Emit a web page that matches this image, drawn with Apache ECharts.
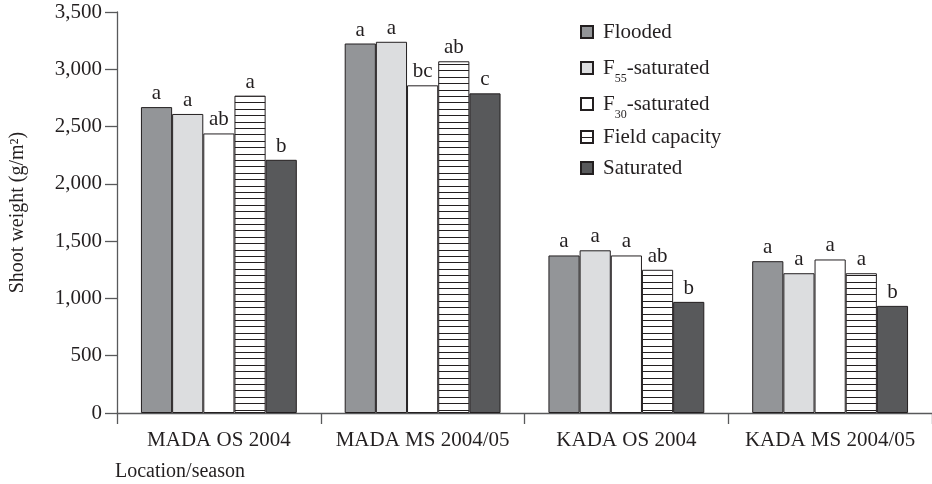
<!DOCTYPE html>
<html>
<head>
<meta charset="utf-8">
<script src="https://cdn.jsdelivr.net/npm/echarts@6/dist/echarts.min.js"></script>
<style>html,body{margin:0;padding:0;background:#fff;}#c{width:932px;height:484px;}</style>
</head>
<body>
<div id="c"></div>
<script>
const categories = ['MADA OS 2004', 'MADA MS 2004/05', 'KADA OS 2004', 'KADA MS 2004/05'];
const seriesNames = ['Flooded', 'F55-saturated', 'F30-saturated', 'Field capacity', 'Saturated'];
const flooded = [2670, 3225, 1375, 1325];
const f55Saturated = [2610, 3240, 1420, 1220];
const f30Saturated = [2440, 2860, 1375, 1340];
const fieldCapacity = [2770, 3070, 1250, 1220];
const saturated = [2210, 2790, 970, 935];
const floodedSig = ['a', 'a', 'a', 'a'];
const f55Sig = ['a', 'a', 'a', 'a'];
const f30Sig = ['ab', 'bc', 'a', 'a'];
const fieldCapSig = ['a', 'ab', 'ab', 'a'];
const saturatedSig = ['b', 'c', 'b', 'b'];
const yTicks = [0, 500, 1000, 1500, 2000, 2500, 3000, 3500];

const FONT = '"Liberation Serif", "DejaVu Serif", serif';
const INK = '#231f20';
const AXIS = '#58595b';

// horizontal stripe pattern for "Field capacity"
const stripe = document.createElement('canvas');
stripe.width = 8; stripe.height = 32;
(function () {
  const g = stripe.getContext('2d');
  g.fillStyle = '#ffffff'; g.fillRect(0, 0, 8, 32);
  g.fillStyle = INK;
  [0, 6, 13, 19, 26].forEach(y => g.fillRect(0, y, 8, 1));
})();

const values = [flooded, f55Saturated, f30Saturated, fieldCapacity, saturated];
const sigs = [floodedSig, f55Sig, f30Sig, fieldCapSig, saturatedSig];
const fills = ['#939598', '#dcdddf', '#ffffff', { image: stripe, repeat: 'repeat' }, '#58595b'];

const series = seriesNames.map((name, i) => ({
  name: name,
  type: 'bar',
  barGap: '0%',
  barCategoryGap: '23.5%',
  data: values[i],
  itemStyle: { color: fills[i], borderColor: INK, borderWidth: 1 },
  emphasis: { disabled: true },
  label: {
    show: true, position: 'top', distance: 3,
    fontFamily: FONT, fontSize: 21, color: INK,
    formatter: p => sigs[i][p.dataIndex]
  }
}));

const legendTops = [21, 57, 93, 126, 157];
const legends = seriesNames.map((name, i) => ({
  orient: 'vertical', left: 580, top: legendTops[i], padding: 0,
  itemWidth: 12, itemHeight: 12, icon: 'rect',
  data: [name],
  formatter: function (n) {
    if (n === 'F55-saturated') return 'F{sub|55}-saturated';
    if (n === 'F30-saturated') return 'F{sub|30}-saturated';
    return n;
  },
  textStyle: {
    fontFamily: FONT, fontSize: 21, color: INK, lineHeight: 22, padding: [0, 0, 0, 5],
    rich: {
      sub: { fontFamily: FONT, fontSize: 12, color: INK, verticalAlign: 'bottom', lineHeight: 14, padding: [0, 0, -6, 0] }
    }
  }
}));

const chart = echarts.init(document.getElementById('c'), null, { renderer: 'canvas' });
chart.setOption({
  animation: false,
  backgroundColor: '#fff',
  grid: { left: 115, right: -5, top: 12, bottom: 71, containLabel: false },
  legend: legends,
  xAxis: {
    type: 'category', data: categories,
    axisLine: { lineStyle: { color: AXIS, width: 1.3 } },
    axisTick: { show: true, interval: 0, length: 11, lineStyle: { color: AXIS, width: 1.3 } },
    axisLabel: { interval: 0, fontFamily: FONT, fontSize: 21, color: INK, margin: 17 }
  },
  yAxis: {
    type: 'value', min: 0, max: 3500, interval: 500,
    name: 'Shoot weight (g/m²)', nameLocation: 'middle', nameGap: 89,
    nameTextStyle: { fontFamily: FONT, fontSize: 20, color: INK },
    axisLine: { show: true, lineStyle: { color: AXIS, width: 1.3 } },
    axisTick: { show: true, length: 12, lineStyle: { color: AXIS, width: 1.3 } },
    splitLine: { show: false },
    axisLabel: {
      fontFamily: FONT, fontSize: 21, color: INK, margin: 15,
      formatter: v => yTicks.indexOf(v) >= 0 ? v.toLocaleString('en-US') : ''
    }
  },
  graphic: [{
    type: 'text', left: 115, top: 462,
    style: { text: 'Location/season', fontFamily: FONT, fontSize: 20, fill: INK }
  }],
  series: series
});
</script>
</body>
</html>
